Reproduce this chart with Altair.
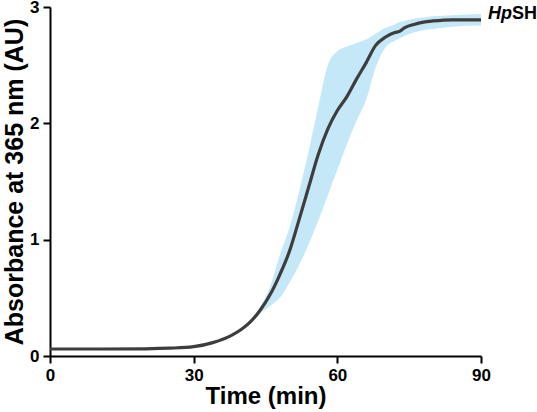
import altair as alt
import pandas as pd

# Time points (min)
time_min = [0, 10, 20, 25, 30, 34, 38, 40, 42, 44, 46, 48, 50, 52, 54, 56, 58, 60,
            62, 64, 66, 68, 70, 72, 73, 74, 76, 78, 80, 84, 90]
# Mean absorbance at 365 nm
mean_abs = [0.06, 0.06, 0.062, 0.067, 0.08, 0.115, 0.18, 0.23, 0.30, 0.40, 0.53, 0.70,
            0.90, 1.17, 1.45, 1.73, 1.95, 2.11, 2.23, 2.38, 2.52, 2.67, 2.74, 2.78,
            2.79, 2.82, 2.85, 2.87, 2.88, 2.89, 2.89]
# Spread around the mean (lower / upper bound)
lower_abs = [0.06, 0.06, 0.062, 0.067, 0.08, 0.115, 0.18, 0.23, 0.29, 0.37, 0.43, 0.50,
             0.63, 0.78, 0.96, 1.16, 1.38, 1.60, 1.82, 2.02, 2.20, 2.48, 2.65, 2.71,
             2.73, 2.75, 2.78, 2.80, 2.81, 2.83, 2.84]
upper_abs = [0.06, 0.06, 0.062, 0.067, 0.08, 0.115, 0.18, 0.23, 0.31, 0.43, 0.60, 0.87,
             1.10, 1.41, 1.76, 2.14, 2.50, 2.62, 2.66, 2.69, 2.72, 2.77, 2.82, 2.85,
             2.87, 2.88, 2.90, 2.91, 2.92, 2.93, 2.94]

series_label = ["Hp", "SH"]

df = pd.DataFrame({"t": time_min, "mean": mean_abs, "lo": lower_abs, "hi": upper_abs})
end = df.tail(1)

FONT = "Liberation Sans"

x_enc = alt.X("t:Q", scale=alt.Scale(domain=[0, 90], nice=False),
              axis=alt.Axis(values=[0, 30, 60, 90], format="d", title="Time (min)",
                            titleFontSize=24))
y_enc = alt.Y("mean:Q", scale=alt.Scale(domain=[0, 3], nice=False),
              axis=alt.Axis(values=[0, 1, 2, 3], format="d", titleFontSize=25,
                            title="Absorbance at 365 nm (AU)"))

band = alt.Chart(df).mark_area(color="#c4e8f8", interpolate="monotone").encode(
    x=x_enc, y=alt.Y("lo:Q", scale=alt.Scale(domain=[0, 3], nice=False)), y2="hi:Q"
)

line = alt.Chart(df).mark_line(color="#3d3d3d", strokeWidth=3.2,
                               interpolate="monotone").encode(x=x_enc, y=y_enc)

lab_hp = alt.Chart(end).mark_text(
    text=series_label[0], font=FONT, fontSize=18, fontWeight="bold",
    fontStyle="italic", align="left", baseline="alphabetic", dx=7, dy=-1, color="black"
).encode(x="t:Q", y="mean:Q")

lab_sh = alt.Chart(end).mark_text(
    text=series_label[1], font=FONT, fontSize=18, fontWeight="bold",
    align="left", baseline="alphabetic", dx=31, dy=-1, color="black"
).encode(x="t:Q", y="mean:Q")

chart = alt.layer(band, line, lab_hp, lab_sh).properties(
    width=431, height=349,
    padding={"left": 50, "top": 7, "right": 56, "bottom": 56},
    autosize=alt.AutoSizeParams(type="none"),
).configure_view(stroke=None).configure_axis(
    grid=False, domainColor="black", domainWidth=2, tickColor="black",
    tickWidth=2, tickSize=7, labelFont=FONT, labelFontWeight="bold",
    labelFontSize=17, labelColor="black", labelPadding=4, labelFlush=False,
    titleFont=FONT, titleFontWeight="bold", titleColor="black",
).configure_axisX(titlePadding=1).configure_axisY(titlePadding=2)

chart.save("out.html", embed_options={"renderer": "svg", "actions": False})
